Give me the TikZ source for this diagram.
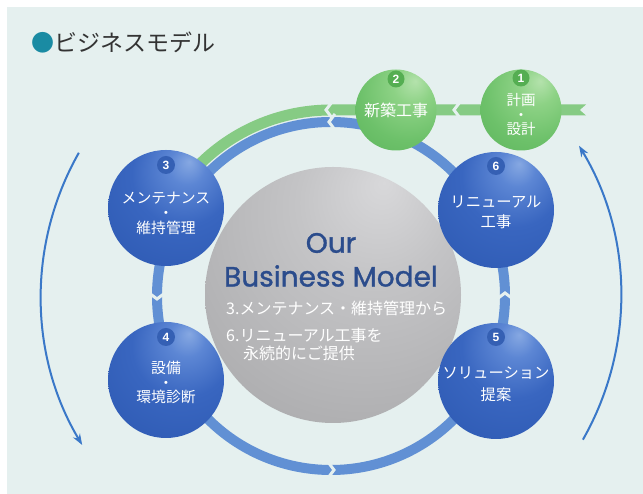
\documentclass[tikz,border=0pt]{standalone}
\usepackage{fontspec}
\usetikzlibrary{arrows.meta,calc}
\newfontfamily\jp{Noto Sans CJK JP}
\newfontfamily\enf[FakeBold=1.2]{Poppins}
\newfontfamily\numf{Liberation Sans}
\definecolor{bg}{HTML}{E5F0EF}
\definecolor{titledot}{HTML}{1A8BA3}
\definecolor{titletext}{HTML}{333333}
\definecolor{ringblue}{HTML}{6190D4}
\definecolor{bandgreen}{HTML}{86CB84}
\definecolor{arrowblue}{HTML}{3A78C8}
\definecolor{navy}{HTML}{2B4C8C}
\definecolor{badgeblue}{HTML}{3560B4}
\definecolor{badgegreen}{HTML}{55AE52}
\definecolor{bsa}{HTML}{86A8E2}
\definecolor{bsb}{HTML}{5C86D4}
\definecolor{bsc}{HTML}{3966C0}
\definecolor{bsd}{HTML}{2D59B2}
\definecolor{bse}{HTML}{23499E}
\definecolor{gsa}{HTML}{D8D8DA}
\definecolor{gsb}{HTML}{C4C4C6}
\definecolor{gsc}{HTML}{ADADAF}
\definecolor{gsd}{HTML}{A3A3A5}
\definecolor{gse}{HTML}{9A9A9C}
\definecolor{esa}{HTML}{B4E2AC}
\definecolor{esb}{HTML}{8DD285}
\definecolor{esc}{HTML}{6DC16A}
\definecolor{esd}{HTML}{55AE55}
\definecolor{ese}{HTML}{4A9F4B}
\pgfdeclareradialshading{bluesph}{\pgfpoint{10bp}{20bp}}{color(0bp)=(bsa); color(8bp)=(bsb); color(22bp)=(bsc); color(45bp)=(bsd); color(80bp)=(bse)}
\pgfdeclareradialshading{greysph}{\pgfpoint{10bp}{22bp}}{color(0bp)=(gsa); color(15bp)=(gsb); color(40bp)=(gsc); color(60bp)=(gsd); color(80bp)=(gse)}
\pgfdeclareradialshading{greensph}{\pgfpoint{12bp}{18bp}}{color(0bp)=(esa); color(12bp)=(esb); color(30bp)=(esc); color(55bp)=(esd); color(80bp)=(ese)}
\begin{document}
\begin{tikzpicture}[x=1pt,y=1pt,
  outerarrow/.style={draw=arrowblue,line width=2pt,-{Stealth[length=11pt,width=8pt]}},
  bluering/.style={draw=ringblue,line width=10pt},
  greenband/.style={draw=bandgreen,line width=11pt},
  gapline/.style={draw=bg,line width=3pt},
  bluesphere/.style={circle,inner sep=0pt,minimum size=116pt,shade,shading=bluesph},
  greensphere/.style={circle,inner sep=0pt,minimum size=81pt,shade,shading=greensph},
  badgeb/.style={circle,fill=badgeblue,inner sep=0pt,minimum size=18pt,text=white,font=\numf\bfseries\fontsize{12}{12}\selectfont},
  badgeg/.style={circle,fill=badgegreen,inner sep=0pt,minimum size=17pt,text=white,font=\numf\bfseries\fontsize{12}{12}\selectfont},
  ntext/.style={text=white,align=center,inner sep=0pt},
  jptext/.style={text=white,anchor=west,inner sep=0pt,font=\jp\fontsize{16}{18}\selectfont}
]
\useasboundingbox (0,0) rectangle (643,494);
\fill[white] (0,0) rectangle (643,494);
\fill[bg] (7,0) rectangle (643,487);
\coordinate (C) at (331,198);
% outer arrows
\draw[outerarrow] ($(C)+(150.4:290)$) arc[start angle=150.4,end angle=210.9,radius=290];
\draw[outerarrow] ($(C)+(-29.7:290)$) arc[start angle=-29.7,end angle=31.2,radius=290];
% green band and arc
\draw[greenband] (586,384) -- (331,384) arc[start angle=90,end angle=158,radius=186];
\fill[bg] (588,391) -- (580,384) -- (588,377) -- cycle;
% blue ring
\draw[bluering] (C) circle[radius=174];
% chevron gaps
\begin{scope}[shift={(332,372)},rotate=180]\draw[gapline] (-3,8) -- (3,0) -- (-3,-8);\end{scope}
\begin{scope}[shift={(329,384)},rotate=180]\draw[gapline] (-3,8) -- (3,0) -- (-3,-8);\end{scope}
\begin{scope}[shift={(457,384)},rotate=180]\draw[gapline] (-3,8) -- (3,0) -- (-3,-8);\end{scope}
\begin{scope}[shift={(157,198)},rotate=270]\draw[gapline] (-3,8) -- (3,0) -- (-3,-8);\end{scope}
\begin{scope}[shift={(331,24)},rotate=0]\draw[gapline] (-3,8) -- (3,0) -- (-3,-8);\end{scope}
\begin{scope}[shift={(505,198)},rotate=90]\draw[gapline] (-3,8) -- (3,0) -- (-3,-8);\end{scope}
% central sphere
\node[circle,inner sep=0pt,minimum size=256pt,shade,shading=greysph] (core) at (333,199) {};
% spheres
\node[bluesphere] (n3) at (166,286) {};
\node[bluesphere] (n6) at (496,284) {};
\node[bluesphere] (n4) at (166,114) {};
\node[bluesphere] (n5) at (496,113) {};
\node[greensphere] (n2) at (396,384) {};
\node[greensphere] (n1) at (521,384) {};
% badges
\node[badgeb] (b3) at ($(n3)+(0,43)$) {3};
\node[badgeb] (b6) at ($(n6)+(0,44)$) {6};
\node[badgeb] (b4) at ($(n4)+(0,43)$) {4};
\node[badgeb] (b5) at ($(n5)+(0,44)$) {5};
\node[badgeg] (b2) at ($(n2)+(0,31)$) {2};
\node[badgeg] (b1) at ($(n1)+(0,32)$) {1};
% node texts
\node[ntext,font=\jp\fontsize{14.8}{14.8}\selectfont] (t3) at ($(n3)+(0,-5.5)$) {メンテナンス\\・\\維持管理};
\node[ntext,font=\jp\fontsize{15.3}{20}\selectfont] (t6) at ($(n6)+(0,-2)$) {リニューアル\\工事};
\node[ntext,font=\jp\fontsize{14.8}{14.8}\selectfont] (t4) at ($(n4)+(0,-2.5)$) {設備\\・\\環境診断};
\node[ntext,font=\jp\fontsize{15.3}{22}\selectfont] (t5) at ($(n5)+(0,-3)$) {ソリューション\\提案};
\node[ntext,font=\jp\fontsize{16}{18}\selectfont] (t2) at (n2) {新築工事};
\node[ntext,font=\jp\fontsize{14.5}{14.5}\selectfont] (t1) at ($(n1)+(0,-5)$) {計画\\・\\設計};
% center texts
\node[text=navy,inner sep=0pt,font=\enf\fontsize{28}{30}\selectfont] (our) at (331,251) {Our};
\node[text=navy,inner sep=0pt,font=\enf\fontsize{28}{30}\selectfont] (bm) at (331,218) {Business Model};
\node[jptext] (l1) at (226,186) {3.メンテナンス・維持管理から};
\node[jptext] (l2) at (226,159) {6.リニューアル工事を};
\node[jptext] (l3) at (243,141) {永続的にご提供};
% title
\node[anchor=west,inner sep=0pt,text=titletext,font=\jp\fontsize{23}{26}\selectfont] (title) at (31,451) {{\color{titledot}●}ビジネスモデル};
\end{tikzpicture}
\end{document}
